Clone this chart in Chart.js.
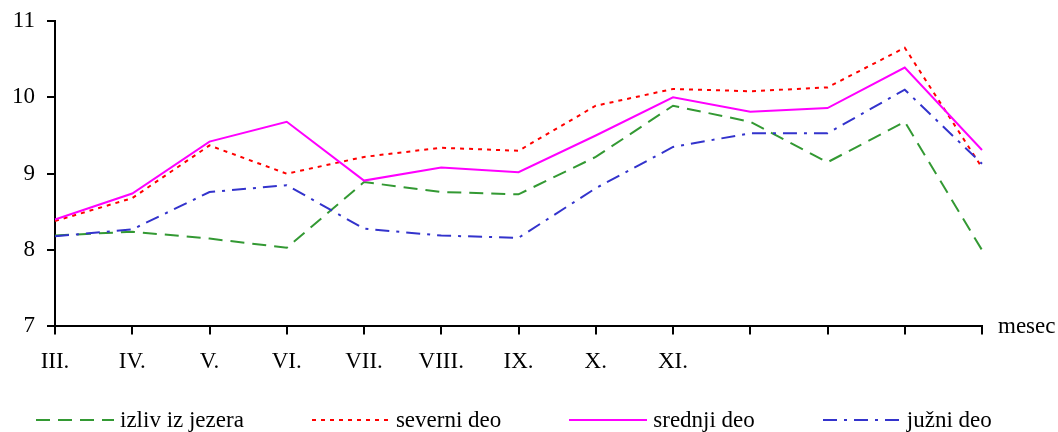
<!DOCTYPE html>
<html>
<head>
<meta charset="utf-8">
<script src="https://cdn.jsdelivr.net/npm/chart.js@4/dist/chart.umd.min.js"></script>
<style>
    html, body { margin: 0; padding: 0; background: #fff; }
    .wrap { position: relative; width: 1058px; height: 432px; }
    .legend {
        position: absolute; left: 0; top: 407px; width: 1058px;
        display: flex; align-items: center; gap: 68px; padding-left: 36px; box-sizing: border-box;
        font: 23px 'Liberation Serif', 'Times New Roman', serif; line-height: 26px; color: #000;
    }
    .legend-item { display: flex; align-items: center; white-space: nowrap; }
    .legend-item canvas { margin-right: 6px; }
</style>
</head>
<body>
<div class="wrap">
    <canvas id="tempChart" width="1058" height="432"></canvas>
    <div class="legend" id="legend"></div>
</div>
<script>
// months (only the first nine are labelled on the axis)
const months = ['III.', 'IV.', 'V.', 'VI.', 'VII.', 'VIII.', 'IX.', 'X.', 'XI.', '', '', '', ''];
const izliv = [8.19, 8.24, 8.15, 8.03, 8.89, 8.76, 8.73, 9.22, 9.89, 9.68, 9.15, 9.68, 8.00];
const severni = [8.38, 8.68, 9.37, 9.00, 9.22, 9.34, 9.30, 9.89, 10.11, 10.08, 10.13, 10.65, 9.08];
const srednji = [8.40, 8.74, 9.42, 9.68, 8.91, 9.08, 9.02, 9.50, 10.00, 9.81, 9.86, 10.39, 9.31];
const juzni = [8.18, 8.27, 8.76, 8.85, 8.28, 8.19, 8.16, 8.81, 9.35, 9.53, 9.53, 10.10, 9.13];
const yTicks = [7, 8, 9, 10, 11];
const xTitle = 'mesec';

document.addEventListener('DOMContentLoaded', function() {
    const font = { family: "'Liberation Serif', 'Times New Roman', serif", size: 23 };

    // draws "mesec" at the right end of the x axis
    const axisTitle = {
        id: 'axisTitle',
        afterDraw(chart) {
            const ctx = chart.ctx;
            const y = chart.scales.x.top;
            ctx.save();
            ctx.font = '23px ' + font.family;
            ctx.fillStyle = '#000';
            ctx.textAlign = 'left';
            ctx.textBaseline = 'alphabetic';
            ctx.fillText(xTitle, chart.chartArea.right + 16, y + 7);
            ctx.restore();
        }
    };

    const line = (label, data, color, dash, order) => ({
        label: label,
        data: data,
        borderColor: color,
        backgroundColor: color,
        borderWidth: 2,
        borderDash: dash,
        pointRadius: 0,
        tension: 0,
        fill: false,
        order: order
    });

    const chart = new Chart(document.getElementById('tempChart').getContext('2d'), {
        type: 'line',
        data: {
            labels: months,
            datasets: [
                line('izliv iz jezera', izliv, '#339933', [14, 8], 3),
                line('severni deo', severni, '#ff0000', [4, 5], 2),
                line('srednji deo', srednji, '#ff00ff', [], 1),
                line('južni deo', juzni, '#3333cc', [14, 7, 3, 7], 0)
            ]
        },
        options: {
            responsive: false,
            animation: false,
            layout: { padding: { top: 21, left: 0, right: 76, bottom: 42 } },
            plugins: {
                legend: { display: false },
                tooltip: { enabled: false }
            },
            scales: {
                x: {
                    offset: false,
                    border: { color: '#000', width: 2 },
                    grid: { drawOnChartArea: false, drawTicks: true, tickLength: 8, color: '#000', lineWidth: 2 },
                    ticks: { autoSkip: false, maxRotation: 0, padding: 14, color: '#000', font: font }
                },
                y: {
                    min: 7,
                    max: 11,
                    afterBuildTicks: axis => { axis.ticks = yTicks.map(v => ({ value: v })); },
                    // labels may hang over the plot edges, don't reserve room for them
                    afterFit: axis => { axis.paddingTop = 0; axis.paddingBottom = 0; },
                    border: { color: '#000', width: 2 },
                    grid: { drawOnChartArea: false, drawTicks: true, tickLength: 8, color: '#000', lineWidth: 2 },
                    ticks: { padding: 12, color: '#000', font: font }
                }
            }
        },
        plugins: [axisTitle]
    });

    // html legend, built from the datasets
    const legend = document.getElementById('legend');
    chart.data.datasets.forEach(ds => {
        const item = document.createElement('div');
        item.className = 'legend-item';
        const c = document.createElement('canvas');
        c.width = 78;
        c.height = 10;
        const lctx = c.getContext('2d');
        lctx.strokeStyle = ds.borderColor;
        lctx.lineWidth = 2;
        lctx.setLineDash(ds.borderDash);
        lctx.beginPath();
        lctx.moveTo(0, 5);
        lctx.lineTo(78, 5);
        lctx.stroke();
        const span = document.createElement('span');
        span.textContent = ds.label;
        item.appendChild(c);
        item.appendChild(span);
        legend.appendChild(item);
    });
});
</script>
</body>
</html>
